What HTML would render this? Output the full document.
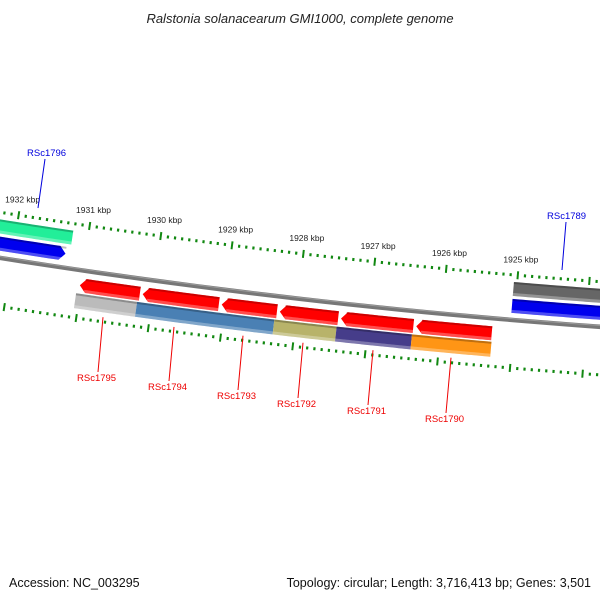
<!DOCTYPE html>
<html><head><meta charset="utf-8"><style>
html,body{margin:0;padding:0;background:#fff}
svg{display:block;font-family:"Liberation Sans",sans-serif}
</style></head><body>
<svg id="map" width="600" height="600" viewBox="0 0 600 600">
<text x="300" y="23" text-anchor="middle" font-size="13" font-style="italic" fill="#222">Ralstonia solanacearum GMI1000, complete genome</text>
<text x="9" y="587" font-size="12.5" fill="#111">Accession: NC_003295</text>
<text x="591" y="587" text-anchor="end" font-size="12.5" fill="#111">Topology: circular; Length: 3,716,413 bp; Genes: 3,501</text>
<g id="layer"></g>
</svg>
<script>
// ---- data ----
const kbpTicks = [1932, 1931, 1930, 1929, 1928, 1927, 1926, 1925];
const upperNames = ['RSc1796-a', 'RSc1796', 'RSc1789-a', 'RSc1789'];
const upperStarts = [1933500, 1933500, 1925170, 1925170];
const upperEnds = [1931340, 1931400, 1923000, 1923000];
const upperColors = ['#22ee99', '#0000ee', '#666666', '#0000ee'];
const upperRing = ['outer', 'inner', 'outer', 'inner'];
const geneNames = ['RSc1795', 'RSc1794', 'RSc1793', 'RSc1792', 'RSc1791', 'RSc1790'];
const geneStarts = [1931160, 1930284, 1929184, 1928376, 1927526, 1926482];
const geneEnds = [1930284, 1929184, 1928376, 1927526, 1926482, 1925396];
const catStarts = [1931175, 1930326, 1928418, 1927554, 1926510];
const catEnds = [1930326, 1928418, 1927554, 1926510, 1925409];
const catColors = ['#bbbbbb', '#4a80b4', '#b8b36a', '#463d8a', '#ff9515'];
const geneLabelX = [77, 148, 217, 277, 347, 425];
const geneLabelY = [381, 390, 399, 407, 414, 422];

// ---- geometry ----
const NS = 'http://www.w3.org/2000/svg';
const layer = document.getElementById('layer');
const R = 7074, cx = 1107, cy = -6729;
const a0 = Math.atan2(297.9 - cy, 299.3 - cx);
const pxPerBp = 0.0723;
let S0 = -1;
function P(bp, off) {
  const s = (1928000 - bp) * pxPerBp + S0;
  const a = a0 - s / R;
  const r = R + off;
  return [cx + r * Math.cos(a), cy + r * Math.sin(a)];
}
function mk(tag, attrs) {
  const e = document.createElementNS(NS, tag);
  for (const k in attrs) e.setAttribute(k, attrs[k]);
  layer.appendChild(e);
  return e;
}
function arcPath(b1, b2, off) {
  let d = '';
  const n = 40;
  for (let i = 0; i <= n; i++) {
    const p = P(b1 + (b2 - b1) * i / n, off);
    d += (i ? 'L' : 'M') + p[0].toFixed(2) + ' ' + p[1].toFixed(2);
  }
  return d;
}
function band(b1, b2, off, w, arrow) {
  const head = 85;
  let s1 = b1, s2 = b2;
  if (arrow === 'right') s2 = b2 + head;
  if (arrow === 'left') s1 = b1 - head;
  const pts = [];
  const n = 30;
  for (let i = 0; i <= n; i++) pts.push(P(s1 + (s2 - s1) * i / n, off - w / 2));
  if (arrow === 'right') pts.push(P(b2, off));
  for (let i = n; i >= 0; i--) pts.push(P(s1 + (s2 - s1) * i / n, off + w / 2));
  if (arrow === 'left') pts.push(P(b1, off));
  return 'M' + pts.map(p => p[0].toFixed(2) + ' ' + p[1].toFixed(2)).join('L') + 'Z';
}

// backbone
let e = mk('path', {d: arcPath(1935000, 1921000, 0), stroke: '#777', 'stroke-width': 4.5, fill: 'none'});


e = mk('path', {d: arcPath(1935000, 1921000, -1.3), stroke: '#9a9a9a', 'stroke-width': 1, fill: 'none'});



// ticks
[-45, 48].forEach(function (off) {
  for (let bp = 1923000; bp <= 1933500; bp += 100) {
    const major = bp % 1000 === 0;
    const len = major ? 8 : 3;
    const p1 = P(bp, off - len / 2), p2 = P(bp, off + len / 2);
    const t = mk('line', {x1: p1[0], y1: p1[1], x2: p2[0], y2: p2[1], stroke: '#118811', 'stroke-width': major ? 2 : 2.2});
    
    
  }
});
kbpTicks.forEach(function (k) {
  const p = P(k * 1000, -58);
  const t = mk('text', {x: p[0] + 2, y: p[1], 'text-anchor': 'middle', 'font-size': 8.5, fill: '#222'});
  t.textContent = k + ' kbp';
  
  
});

// features are drawn slightly offset along the arc
S0 = 8;

// upper features
upperNames.forEach(function (nm, i) {
  const off = upperRing[i] === 'outer' ? -31 : -14;
  const arrow = (upperColors[i] === '#0000ee' && upperEnds[i] > 1924000) ? 'right' : null;
  const f = mk('path', {d: band(upperStarts[i], upperEnds[i], off, 14, arrow), fill: upperColors[i]});
  
  
  const top = mk('path', {d: arcPath(upperStarts[i], upperEnds[i], off - 6), stroke: '#000', 'stroke-opacity': 0.25, 'stroke-width': 2, fill: 'none'});
  
  
  const bot = mk('path', {d: arcPath(upperStarts[i], upperEnds[i], off + 5.5), stroke: '#fff', 'stroke-opacity': 0.3, 'stroke-width': 3, fill: 'none'});
  
  
});

// genes (red arrows, pointing left)
geneNames.forEach(function (nm, i) {
  const f = mk('path', {d: band(geneStarts[i] - 20, geneEnds[i] + 20, 15, 14, 'left'), fill: '#ff0000'});
  
  
  const top = mk('path', {d: arcPath(geneStarts[i] - 90, geneEnds[i] + 20, 9), stroke: '#a00', 'stroke-opacity': 0.6, 'stroke-width': 2, fill: 'none'});
  
  
  const bot = mk('path', {d: arcPath(geneStarts[i] - 90, geneEnds[i] + 20, 20.5), stroke: '#fff', 'stroke-opacity': 0.3, 'stroke-width': 3, fill: 'none'});
  
  
});

// COG category band
catColors.forEach(function (c, i) {
  const f = mk('path', {d: band(catStarts[i], catEnds[i], 31, 15, null), fill: c});
  
  
  const top = mk('path', {d: arcPath(catStarts[i], catEnds[i], 24.5), stroke: '#000', 'stroke-opacity': 0.25, 'stroke-width': 2, fill: 'none'});
  
  
  const bot = mk('path', {d: arcPath(catStarts[i], catEnds[i], 37), stroke: '#fff', 'stroke-opacity': 0.3, 'stroke-width': 3, fill: 'none'});
  
  
});

// labels
function label(txt, x, y, lx1, ly1, lx2, ly2, col, name) {
  const l = mk('line', {x1: lx1, y1: ly1, x2: lx2, y2: ly2, stroke: col, 'stroke-width': 1});
  
  
  const t = mk('text', {x: x, y: y, 'font-size': 9.5, fill: col});
  t.textContent = txt;
  
  
}
label('RSc1796', 27, 156, 45, 159, 38, 208, '#0000dd', 'rsc1796');
label('RSc1789', 547, 219, 566, 222, 562, 270, '#0000dd', 'rsc1789');
geneNames.forEach(function (nm, i) {
  const mid = (geneStarts[i] + geneEnds[i]) / 2;
  const p = P(mid, 46);
  const lx = geneLabelX[i] + 21, ly = geneLabelY[i] - 9;
  label(nm, geneLabelX[i], geneLabelY[i], lx + 5, p[1] - 3, lx, ly, '#ee0000', nm.toLowerCase());
});
</script>
</body></html>
